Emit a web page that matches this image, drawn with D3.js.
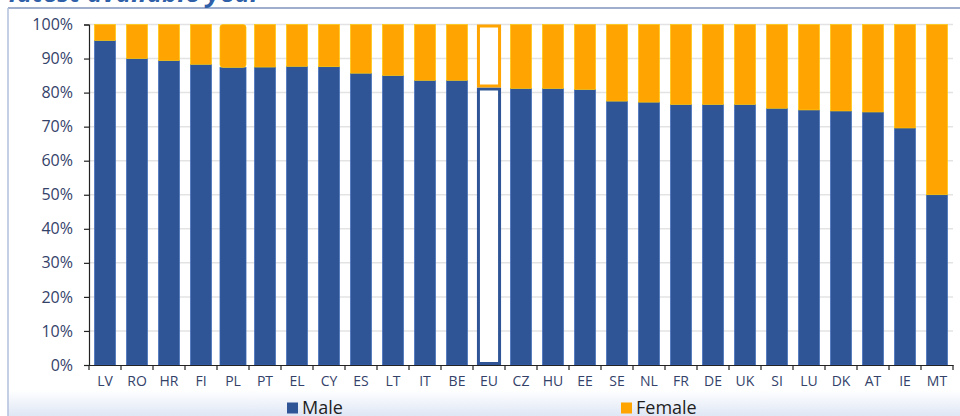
<!DOCTYPE html>
<html>
<head>
<meta charset="utf-8">
<script src="https://cdn.jsdelivr.net/npm/d3@7"></script>
<style>
  html, body { margin: 0; padding: 0; background: #fff; }
  svg { display: block; }
  text { font-family: "Open Sans", "Noto Sans", sans-serif; }
</style>
</head>
<body>
<svg id="chart" width="960" height="416"></svg>
<script>
const categories = ["LV","RO","HR","FI","PL","PT","EL","CY","ES","LT","IT","BE","EU","CZ","HU","EE","SE","NL","FR","DE","UK","SI","LU","DK","AT","IE","MT"];
const male = [95.3, 90.0, 89.4, 88.3, 87.4, 87.5, 87.7, 87.6, 85.7, 85.0, 83.6, 83.6, 81.5, 81.2, 81.2, 80.9, 77.5, 77.2, 76.5, 76.5, 76.5, 75.4, 74.9, 74.6, 74.3, 69.6, 50.0];
const female = male.map(v => 100 - v);
const yTicks = [0,10,20,30,40,50,60,70,80,90,100];
const seriesNames = ["Male", "Female"];
const title = "latest available year";

const colors = { Male: "#2F5597", Female: "#FFA400" };

const svg = d3.select("#chart");
const W = 960, H = 416;

const defs = svg.append("defs");
const grad = defs.append("linearGradient").attr("id","bg").attr("x1",0).attr("y1",0).attr("x2",0).attr("y2",1);
grad.append("stop").attr("offset","0%").attr("stop-color","#ffffff");
grad.append("stop").attr("offset","100%").attr("stop-color","#dfe7f5");

svg.append("rect").attr("x",8).attr("y",8).attr("width",W).attr("height",H).attr("fill","#fff");
svg.append("rect").attr("x",8).attr("y",390).attr("width",W).attr("height",H-390).attr("fill","url(#bg)");
svg.append("line").attr("x1",8).attr("x2",W).attr("y1",8).attr("y2",8).attr("stroke","#7f93bd").attr("stroke-width",1.5);
svg.append("line").attr("x1",8).attr("x2",8).attr("y1",8).attr("y2",H).attr("stroke","#b3c1dc").attr("stroke-width",1.5);

// title (cut off at top, as in the reference)
svg.append("text").attr("x",9).attr("y",1.5)
  .attr("font-size",26).attr("font-weight","bold").attr("font-style","italic")
  .attr("fill","#2F5FA8").text(title);

const margin = { left: 89 };
const x = d3.scaleBand().domain(categories).range([margin.left, margin.left + 27*32]).paddingInner(0.34).paddingOuter(0.17);
const y = d3.scaleLinear().domain([0,100]).range([365, 24.5]);

svg.append("g").selectAll("line").data(yTicks.filter(d => d > 0)).join("line")
  .attr("x1", margin.left).attr("x2", margin.left + 27*32)
  .attr("y1", d => y(d)).attr("y2", d => y(d))
  .attr("stroke","#e3e3e3").attr("stroke-width",1.5);

const data = categories.map((c,i) => ({ cat: c, Male: male[i], Female: female[i] }));
const stack = d3.stack().keys(seriesNames)(data);

const g = svg.append("g");
stack.forEach(layer => {
  const key = layer.key;
  g.append("g").selectAll("rect").data(layer).join("rect")
    .attr("x", d => {
      const w = d.data.cat === "PL" ? x.bandwidth() + 5 : x.bandwidth();
      return x(d.data.cat) + x.bandwidth()/2 - w/2;
    })
    .attr("width", d => d.data.cat === "PL" ? x.bandwidth() + 5 : x.bandwidth())
    .attr("y", d => y(d[1]) + (d.data.cat === "EU" ? 1.5 : 0))
    .attr("height", d => Math.max(0, y(d[0]) - y(d[1]) - (d.data.cat === "EU" ? 3 : 0)))
    .attr("rx", d => d.data.cat === "PL" && key === "Female" ? 3 : 0)
    .attr("fill", d => d.data.cat === "EU" ? "#ffffff" : colors[key])
    .attr("stroke", d => d.data.cat === "EU" ? colors[key] : d3.color(colors[key]).brighter(0.6))
    .attr("stroke-width", d => d.data.cat === "EU" ? 3 : 0.6);
});

const yAxis = d3.axisLeft(y).tickValues(yTicks).tickFormat(d => d + "%").tickSize(5).tickPadding(11);
const ya = svg.append("g").attr("transform", `translate(${margin.left},0)`).call(yAxis);
ya.select(".domain").attr("stroke","#222").attr("stroke-width",1.2);
ya.selectAll(".tick line").attr("stroke","#222").attr("stroke-width",1.2);
ya.selectAll(".tick text").attr("font-size",16).attr("fill","#34426a").attr("font-family","Open Sans, sans-serif");

const xAxis = d3.axisBottom(x).tickSize(0).tickPadding(11);
const xa = svg.append("g").attr("transform", `translate(0,365)`).call(xAxis);
xa.select(".domain").attr("stroke","#222").attr("stroke-width",1.2);
xa.selectAll(".tick text").attr("font-size",14).attr("fill","#34426a");
const bounds = d3.range(categories.length + 1).map(i => margin.left + i*32);
xa.append("g").selectAll("line").data(bounds).join("line")
  .attr("x1", d => d).attr("x2", d => d).attr("y1", 0).attr("y2", 5)
  .attr("stroke","#222").attr("stroke-width",1.2);

const legendX = { Male: 287, Female: 621 };
const lg = svg.append("g");
seriesNames.forEach(name => {
  lg.append("rect").attr("x", legendX[name]).attr("y", 402.5).attr("width", 11).attr("height", 11).attr("fill", colors[name]);
  lg.append("text").attr("x", legendX[name] + 15).attr("y", 413.5).attr("font-size", 18).attr("fill", "#1f1f1f").text(name);
});
</script>
</body>
</html>
